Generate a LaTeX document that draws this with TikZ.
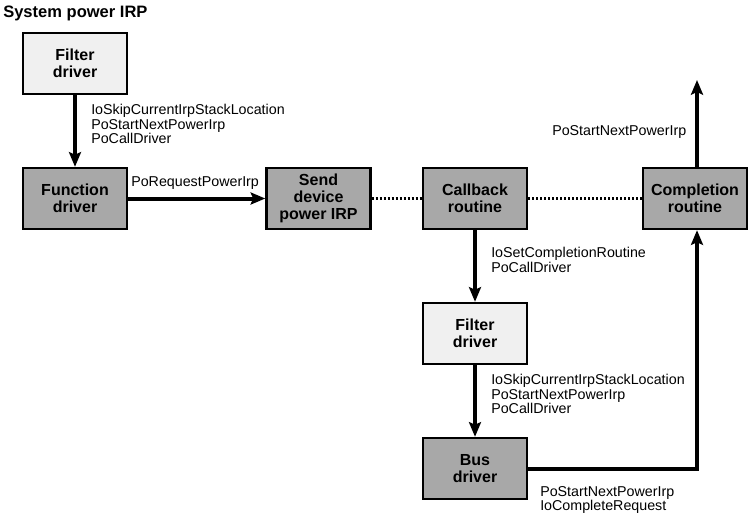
\documentclass[tikz,border=0pt]{standalone}
\usepackage{fontspec}
\setmainfont{Liberation Sans}
\usetikzlibrary{positioning, arrows.meta}
\definecolor{lightfill}{HTML}{F0F0F0}
\definecolor{darkfill}{HTML}{A8A8A8}

\begin{document}
\begin{tikzpicture}[x=0.75pt, y=-0.75pt]
        % Define styles for shapes
        \tikzstyle{lightbox} = [draw, line width=1.8pt, fill=lightfill, minimum width=78pt, minimum height=45.75pt, align=center, font=\bfseries\fontsize{12}{13}\selectfont]
        \tikzstyle{darkbox} = [lightbox, fill=darkfill]
        \tikzstyle{call} = [anchor=north west, inner sep=0pt, align=left, font=\fontsize{10.7}{10.9}\selectfont]
        \tikzstyle{flow} = [line width=3pt, -{Stealth[length=11pt, width=9pt, inset=2pt]}]
        \tikzstyle{link} = [line width=2.2pt, dash pattern=on 1.6pt off 1.4pt]
        \useasboundingbox (0,0) rectangle (749,514);

        % Draw shapes
        \node[anchor=west, inner sep=0pt, font=\bfseries\fontsize{12.4}{13}\selectfont] (title) at (3,13) {System power IRP};
        \node[lightbox] (filter1) at (75,63.5) {Filter\\driver};
        \node[darkbox] (function) at (75,198.5) {Function\\driver};
        \node[darkbox] (send) at (318.5,198.5) {Send\\device\\power IRP};
        \node[darkbox] (callback) at (475,198.5) {Callback\\routine};
        \node[darkbox] (completion) at (695,198.5) {Completion\\routine};
        \node[lightbox] (filter2) at (475,333.5) {Filter\\driver};
        \node[darkbox] (bus) at (475,468.5) {Bus\\driver};
        \coordinate (out) at (697,80);

        % Draw labels
        \node[call] (calls1) at (91,104) {IoSkipCurrentIrpStackLocation\\PoStartNextPowerIrp\\PoCallDriver};
        \node[call] (calls2) at (131,176) {PoRequestPowerIrp};
        \node[call] (calls3) at (552,125) {PoStartNextPowerIrp};
        \node[call] (calls4) at (491,247) {IoSetCompletionRoutine\\PoCallDriver};
        \node[call] (calls5) at (491,374) {IoSkipCurrentIrpStackLocation\\PoStartNextPowerIrp\\PoCallDriver};
        \node[call] (calls6) at (540,486) {PoStartNextPowerIrp\\IoCompleteRequest};

        % Draw arrows
        \draw[flow] (filter1) -- (function);
        \draw[flow] (function) -- (send);
        \draw[link] (send) -- (callback);
        \draw[link] (callback) -- (completion);
        \draw[flow] (completion.north -| out) -- (out);
        \draw[flow] (callback) -- (filter2);
        \draw[flow] (filter2) -- (bus);
        \draw[flow] (bus.east) -| (completion.south -| out);
\end{tikzpicture}
\end{document}
